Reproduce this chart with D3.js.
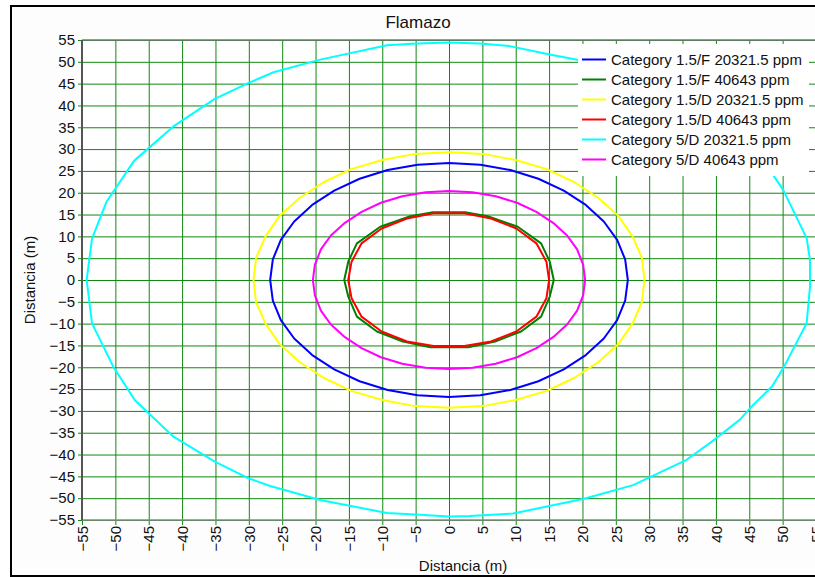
<!DOCTYPE html>
<html><head><meta charset="utf-8">
<script src="https://cdn.jsdelivr.net/npm/d3@7"></script>
<style>
html,body{margin:0;padding:0;background:#fff;}
svg{display:block;font-family:"Liberation Sans",Arial,sans-serif;}
</style></head><body>
<svg id="c" width="815" height="577"></svg>
<script>
const title = "Flamazo";
const xTitle = "Distancia (m)";
const yTitle = "Distancia (m)";
const xTicks = [-55,-50,-45,-40,-35,-30,-25,-20,-15,-10,-5,0,5,10,15,20,25,30,35,40,45,50,55];
const yTicks = [55,50,45,40,35,30,25,20,15,10,5,0,-5,-10,-15,-20,-25,-30,-35,-40,-45,-50,-55];
const seriesNames = ["Category 1.5/F 20321.5 ppm","Category 1.5/F 40643 ppm","Category 1.5/D 20321.5 ppm","Category 1.5/D 40643 ppm","Category 5/D 20321.5 ppm","Category 5/D 40643 ppm"];
const seriesColors = ["#0000ff","#008000","#ffff00","#ff0000","#00ffff","#ff00ff"];

// contour points [x, y] (m)
const blue15F = [[-26.8,0],[-26.4,4.7],[-25.2,9.2],[-23.2,13.4],[-20.5,17.2],[-17.2,20.5],[-13.4,23.2],[-9.2,25.2],[-4.7,26.4],[0,26.8],[4.7,26.4],[9.2,25.2],[13.4,23.2],[17.2,20.5],[20.5,17.2],[23.2,13.4],[25.2,9.2],[26.4,4.7],[26.8,0],[26.4,-4.7],[25.2,-9.2],[23.2,-13.4],[20.5,-17.2],[17.2,-20.5],[13.4,-23.2],[9.2,-25.2],[4.7,-26.4],[0,-26.8],[-4.7,-26.4],[-9.2,-25.2],[-13.4,-23.2],[-17.2,-20.5],[-20.5,-17.2],[-23.2,-13.4],[-25.2,-9.2],[-26.4,-4.7]];
const green15F = [[-15.7,0],[-15.1,4.2],[-13.8,8.4],[-10.3,12.2],[-5.8,14.6],[-2.6,15.5],[2.6,15.5],[5.8,14.6],[10.3,12.2],[13.8,8.4],[15.1,4.2],[15.7,0],[15.1,-3.8],[13.8,-8.4],[10.8,-11.8],[6.9,-14.1],[2.9,-15.4],[-2.8,-15.4],[-6.9,-14.1],[-10.8,-11.8],[-13.8,-8.4],[-15.1,-3.8]];
const yellow15D = [[-29.3,0],[-28.9,5.1],[-27.5,10.0],[-25.4,14.65],[-22.4,18.8],[-18.8,22.4],[-14.65,25.4],[-10.0,27.5],[-5.1,28.9],[0,29.3],[5.1,28.9],[10.0,27.5],[14.65,25.4],[18.8,22.4],[22.4,18.8],[25.4,14.65],[27.5,10.0],[28.9,5.1],[29.3,0],[28.9,-5.1],[27.5,-10.0],[25.4,-14.65],[22.4,-18.8],[18.8,-22.4],[14.65,-25.4],[10.0,-27.5],[5.1,-28.9],[0,-29.3],[-5.1,-28.9],[-10.0,-27.5],[-14.65,-25.4],[-18.8,-22.4],[-22.4,-18.8],[-25.4,-14.65],[-27.5,-10.0],[-28.9,-5.1]];
const red15D = [[-15.1,0],[-14.6,4.2],[-13.1,8.4],[-10.1,11.8],[-6.3,14.1],[-2.3,15.3],[2.3,15.3],[6.3,14.1],[10.1,11.8],[13.1,8.4],[14.6,4.2],[15.0,0],[14.6,-4.2],[13.1,-8.4],[10.1,-11.8],[6.3,-14.1],[2.3,-15.1],[-2.3,-15.1],[-6.3,-14.1],[-10.1,-11.8],[-13.1,-8.4],[-14.6,-4.2]];
const cyan5D = [[-54.3,0],[-53.5,9.5],[-51.3,18],[-47.2,27.3],[-41.3,35.2],[-35.1,41.5],[-30.1,45.1],[-26.3,47.6],[-19.3,50.5],[-9.3,53.8],[-4.8,54.2],[0,54.4],[4.6,54.2],[9.1,53.6],[15.1,51.7],[19.4,50.4],[27,47.3],[35,42],[41,36],[47.5,26.5],[50.1,20.6],[53.6,9.6],[54.1,4.6],[54.1,-1.5],[53.6,-9.9],[50.1,-20.2],[48.4,-24.4],[45.1,-29.4],[43.6,-32],[39.6,-36.8],[35.6,-41.2],[27.6,-47],[20.1,-50.2],[9.6,-53.5],[3.1,-54.1],[0,-54.2],[-4.3,-53.8],[-9.3,-53.4],[-19.3,-50.4],[-26.8,-47.2],[-30.1,-45.4],[-35.1,-41.6],[-41.3,-35.9],[-47.1,-27.5],[-50.3,-19.9],[-53.0,-11.5],[-53.5,-9.9]];
const magenta5D = [[-20.4,0],[-20.1,3.5],[-19.2,7.0],[-17.7,10.2],[-15.6,13.1],[-13.1,15.6],[-10.2,17.7],[-7.0,19.2],[-3.5,20.1],[0,20.4],[3.5,20.1],[7.0,19.2],[10.2,17.7],[13.1,15.6],[15.6,13.1],[17.7,10.2],[19.2,7.0],[20.1,3.5],[20.4,0],[20.1,-3.5],[19.2,-7.0],[17.7,-10.2],[15.6,-13.1],[13.1,-15.6],[10.2,-17.7],[7.0,-19.2],[3.5,-20.1],[0,-20.4],[-3.5,-20.1],[-7.0,-19.2],[-10.2,-17.7],[-13.1,-15.6],[-15.6,-13.1],[-17.7,-10.2],[-19.2,-7.0],[-20.1,-3.5]];
const seriesData = [blue15F, green15F, yellow15D, red15D, cyan5D, magenta5D];

const svg = d3.select("#c");
const L = 82, T = 40, R = 816, B = 520;
const x = d3.scaleLinear().domain([-55,55]).range([L,R]);
const y = d3.scaleLinear().domain([-55,55]).range([B,T]);
const FONT = 15;

// frame
svg.append("rect").attr("x",11).attr("y",6).attr("width",840).attr("height",570)
  .attr("fill","#fdfdfd").attr("stroke","#000").attr("stroke-width",2);
svg.append("rect").attr("x",L).attr("y",T).attr("width",R-L).attr("height",B-T).attr("fill","#fff");

svg.append("clipPath").attr("id","pc").append("rect").attr("x",L).attr("y",T).attr("width",R-L).attr("height",B-T);

const gridColor = "#108810";
// horizontal grid + y ticks
const ya = svg.append("g").attr("transform",`translate(${L},0)`)
  .call(d3.axisLeft(y).tickValues(yTicks).tickSize(0).tickPadding(7));
ya.select(".domain").remove();
ya.selectAll(".tick line").attr("x1",-4).attr("x2",R-L).attr("stroke",gridColor).attr("stroke-width",1);
ya.selectAll(".tick text").attr("font-size",FONT).attr("font-family","Liberation Sans, Arial, sans-serif").attr("fill","#111");

// vertical grid + x ticks
const xa = svg.append("g").attr("transform",`translate(0,${B})`)
  .call(d3.axisBottom(x).tickValues(xTicks).tickSize(0));
xa.select(".domain").remove();
xa.selectAll(".tick line").attr("y1",5).attr("y2",-(B-T)).attr("stroke",gridColor).attr("stroke-width",1);
xa.selectAll(".tick text").attr("font-size",FONT).attr("font-family","Liberation Sans, Arial, sans-serif").attr("fill","#111")
  .attr("text-anchor","end").attr("y",0).attr("dy","0.35em")
  .attr("transform","translate(0,6) rotate(-90)");

// plot borders
svg.append("line").attr("x1",L).attr("x2",R).attr("y1",T).attr("y2",T).attr("stroke","#777").attr("stroke-width",1.5);
svg.append("line").attr("x1",L).attr("x2",R).attr("y1",B).attr("y2",B).attr("stroke","#888").attr("stroke-width",1.5);
svg.append("line").attr("x1",L).attr("x2",L).attr("y1",T).attr("y2",B).attr("stroke","#555").attr("stroke-width",2);

// curves
const line = d3.line().x(d=>x(d[0])).y(d=>y(d[1])).curve(d3.curveLinearClosed);
const cg = svg.append("g").attr("clip-path","url(#pc)");
seriesData.forEach((s,i)=>{
  cg.append("path").attr("d",line(s)).attr("fill","none").attr("stroke",seriesColors[i]).attr("stroke-width",2).attr("stroke-linejoin","round");
});

// legend
const lg = svg.append("g");
lg.append("rect").attr("x",578).attr("y",44).attr("width",231).attr("height",132).attr("fill","#fff");
seriesNames.forEach((n,i)=>{
  const yy = 59.5 + i*20;
  lg.append("line").attr("x1",582).attr("x2",606).attr("y1",yy).attr("y2",yy).attr("stroke",seriesColors[i]).attr("stroke-width",2);
  lg.append("text").attr("x",611).attr("y",yy).attr("dy","0.35em").attr("font-size",FONT).attr("fill","#111").text(n);
});

// titles
svg.append("text").attr("x",418).attr("y",28).attr("text-anchor","middle").attr("font-size",17).attr("fill","#111").text(title);
svg.append("text").attr("x",463).attr("y",571).attr("text-anchor","middle").attr("font-size",FONT).attr("fill","#111").text(xTitle);
svg.append("text").attr("transform","translate(35,280) rotate(-90)").attr("text-anchor","middle").attr("font-size",FONT).attr("fill","#111").text(yTitle);
</script>
</body></html>
